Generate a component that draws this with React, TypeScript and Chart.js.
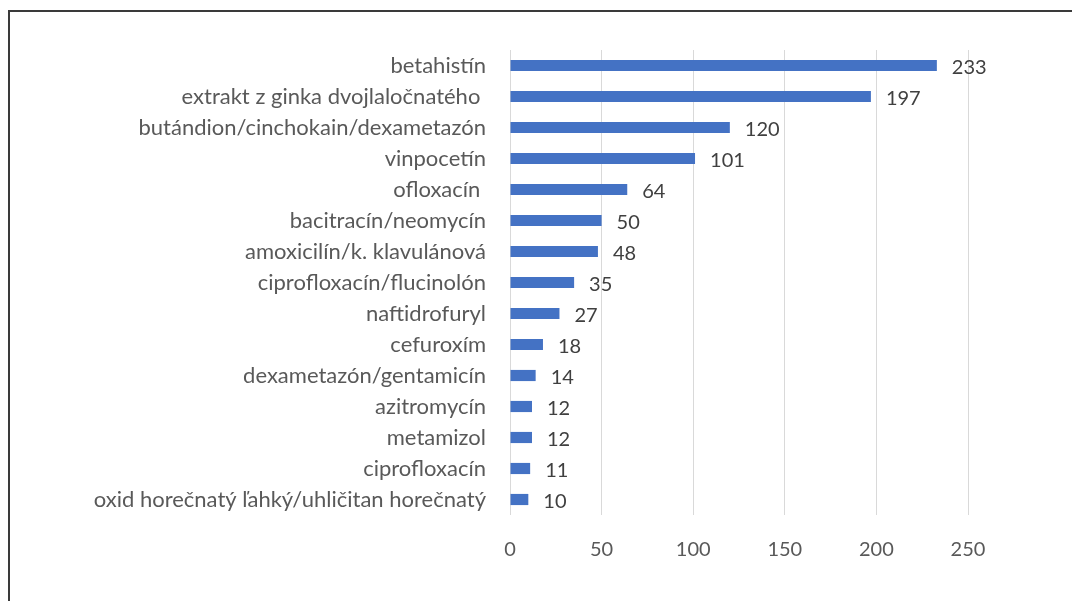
import React, { useEffect, useRef } from "react";
import { Chart, registerables } from "chart.js";

Chart.register(...registerables);

const categories = [
  "betahistín",
  "extrakt z ginka dvojlaločnatého ",
  "butándion/cinchokain/dexametazón",
  "vinpocetín",
  "ofloxacín ",
  "bacitracín/neomycín",
  "amoxicilín/k. klavulánová",
  "ciprofloxacín/flucinolón",
  "naftidrofuryl",
  "cefuroxím",
  "dexametazón/gentamicín",
  "azitromycín",
  "metamizol",
  "ciprofloxacín",
  "oxid horečnatý ľahký/uhličitan horečnatý",
];
const values = [233, 197, 120, 101, 64, 50, 48, 35, 27, 18, 14, 12, 12, 11, 10];
const xTicks = [0, 50, 100, 150, 200, 250];

const FONT = "Lato, 'Open Sans', sans-serif";
const W = 1072;
const H = 601;

const framePlugin = {
  id: "frame",
  beforeDraw(chart: any) {
    const ctx = chart.ctx;
    ctx.save();
    ctx.fillStyle = "#ffffff";
    ctx.fillRect(0, 0, chart.width, chart.height);
    ctx.strokeStyle = "#3a3a3a";
    ctx.lineWidth = 2;
    ctx.beginPath();
    ctx.moveTo(9, chart.height);
    ctx.lineTo(9, 11);
    ctx.lineTo(chart.width, 11);
    ctx.stroke();
    ctx.restore();
  },
};

const valueLabels = {
  id: "valueLabels",
  afterDatasetsDraw(chart: any) {
    const ctx = chart.ctx;
    const meta = chart.getDatasetMeta(0);
    ctx.save();
    ctx.fillStyle = "#404040";
    ctx.font = `20px ${FONT}`;
    ctx.textAlign = "left";
    ctx.textBaseline = "middle";
    meta.data.forEach((bar: any, i: number) => {
      ctx.fillText(String(values[i]), bar.x + 15, bar.y + 2);
    });
    ctx.restore();
  },
};

export default function App() {
  const ref = useRef<HTMLCanvasElement>(null);
  useEffect(() => {
    if (!ref.current) return;
    const chart = new Chart(ref.current, {
      type: "bar",
      data: {
        labels: categories,
        datasets: [
          {
            data: values,
            backgroundColor: "#4472c4",
            barPercentage: 0.36,
            categoryPercentage: 1,
          },
        ],
      },
      options: {
        indexAxis: "y",
        animation: false,
        responsive: false,
        maintainAspectRatio: false,
        layout: { padding: { top: 50, right: 104, left: 0, bottom: 0 } },
        plugins: { legend: { display: false }, tooltip: { enabled: false } },
        scales: {
          x: {
            min: 0,
            max: 250,
            afterBuildTicks: (scale: any) => {
              scale.ticks = xTicks.map((v) => ({ value: v }));
            },
            afterFit: (scale: any) => {
              scale.height = 86;
            },
            grid: { color: "#d9d9d9", drawTicks: false, lineWidth: 1 },
            border: { display: false },
            ticks: {
              color: "#595959",
              font: { family: FONT, size: 20 },
              padding: 23,
            },
          },
          y: {
            afterFit: (scale: any) => {
              scale.width = 510;
            },
            grid: { display: false, drawTicks: false },
            border: { display: false },
            ticks: {
              color: "#595959",
              font: { family: FONT, size: 22 },
              padding: 24,
              autoSkip: false,
            },
          },
        },
      },
      plugins: [framePlugin, valueLabels],
    });
    return () => chart.destroy();
  }, []);
  return (
    <div style={{ position: "fixed", left: 0, top: 0, width: W, height: H }}>
      <canvas ref={ref} width={W} height={H} style={{ width: W, height: H, display: "block" }} />
    </div>
  );
}
